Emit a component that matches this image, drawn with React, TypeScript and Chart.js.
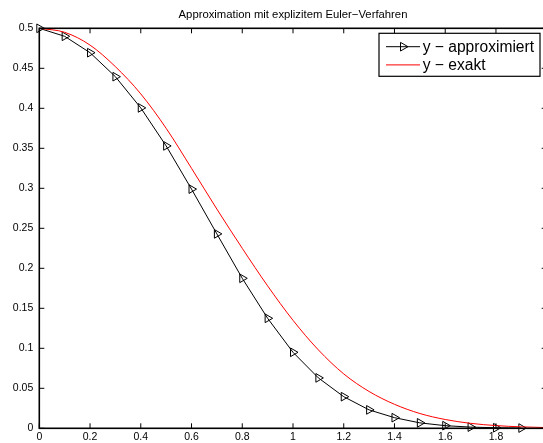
import React, { useEffect, useRef } from "react";
import { Chart, registerables } from "chart.js";

Chart.register(...registerables);

// ---- data ----
const chartTitle = "Approximation mit explizitem Euler\u2212Verfahren";
const legendLabels = ["y \u2212 approximiert", "y \u2212 exakt"];

const xApprox = [0, 0.1, 0.2, 0.3, 0.4, 0.5, 0.6, 0.7, 0.8, 0.9, 1.0, 1.1, 1.2, 1.3, 1.4, 1.5, 1.6, 1.7, 1.8, 1.9];
const yApprox = [0.5, 0.49, 0.4695, 0.4395, 0.4005, 0.353, 0.299, 0.243, 0.1875, 0.1375, 0.095, 0.063, 0.0395, 0.023, 0.0133, 0.0068, 0.0033, 0.0015, 0.0007, 0.0003];

const xExact = [0, 0.1, 0.2, 0.3, 0.4, 0.5, 0.6, 0.7, 0.8, 0.9, 1.0, 1.1, 1.2, 1.3, 1.4, 1.5, 1.6, 1.7, 1.8, 1.9, 2.0];
const yExact = [0.5, 0.495, 0.479, 0.452, 0.418, 0.375, 0.325, 0.274, 0.225, 0.178, 0.135, 0.098, 0.068, 0.046, 0.03, 0.0185, 0.011, 0.0062, 0.0034, 0.0018, 0.0009];

const xTickValues = [0, 0.2, 0.4, 0.6, 0.8, 1.0, 1.2, 1.4, 1.6, 1.8];
const xTickLabels = ["0", "0.2", "0.4", "0.6", "0.8", "1", "1.2", "1.4", "1.6", "1.8"];
const yTickValues = [0, 0.05, 0.1, 0.15, 0.2, 0.25, 0.3, 0.35, 0.4, 0.45, 0.5];
const yTickLabels = ["0", "0.05", "0.1", "0.15", "0.2", "0.25", "0.3", "0.35", "0.4", "0.45", "0.5"];

const xRange = [0, 2];
const yRange = [0, 0.5];

// ---- layout / style ----
const CANVAS_W = 560;
const CANVAS_H = 443;
const FONT = "'Liberation Sans', Arial, Helvetica, sans-serif";

function drawTriangle(ctx: CanvasRenderingContext2D, x: number, y: number, r: number) {
  let rad = Math.PI / 2;
  ctx.beginPath();
  ctx.moveTo(x + Math.sin(rad) * r, y - Math.cos(rad) * r);
  rad += (2 * Math.PI) / 3;
  ctx.lineTo(x + Math.sin(rad) * r, y - Math.cos(rad) * r);
  rad += (2 * Math.PI) / 3;
  ctx.lineTo(x + Math.sin(rad) * r, y - Math.cos(rad) * r);
  ctx.closePath();
  ctx.stroke();
}

const boxPlugin = {
  id: "matlabBox",
  afterDraw(chart: any) {
    const { ctx, chartArea: ca, scales } = chart;
    const xs = scales.x;
    const ys = scales.y;
    ctx.save();
    // axes box
    ctx.strokeStyle = "#000";
    ctx.lineWidth = 1.6;
    ctx.strokeRect(ca.left, ca.top, ca.right - ca.left, ca.bottom - ca.top);
    // inward ticks
    ctx.lineWidth = 1;
    const tl = 5;
    ctx.beginPath();
    xTickValues.forEach((v) => {
      const px = xs.getPixelForValue(v);
      ctx.moveTo(px, ca.bottom);
      ctx.lineTo(px, ca.bottom - tl);
      ctx.moveTo(px, ca.top);
      ctx.lineTo(px, ca.top + tl);
    });
    yTickValues.forEach((v) => {
      const py = ys.getPixelForValue(v);
      ctx.moveTo(ca.left, py);
      ctx.lineTo(ca.left + tl, py);
      ctx.moveTo(ca.right, py);
      ctx.lineTo(ca.right - tl, py);
    });
    ctx.stroke();

    // legend
    const bw = 161;
    const bh = 43;
    const bx = ca.right - 6.7 - bw;
    const by = ca.top + 5;
    ctx.fillStyle = "#fff";
    ctx.fillRect(bx, by, bw, bh);
    ctx.strokeStyle = "#000";
    ctx.lineWidth = 1.2;
    ctx.strokeRect(bx, by, bw, bh);
    const rows = [by + 13.4, by + 31.6];
    const colors = ["#000", "#ff0000"];
    rows.forEach((ry, i) => {
      ctx.strokeStyle = colors[i];
      ctx.lineWidth = 1;
      ctx.beginPath();
      ctx.moveTo(bx + 7, ry);
      ctx.lineTo(bx + 41, ry);
      ctx.stroke();
      if (i === 0) {
        ctx.strokeStyle = "#000";
        drawTriangle(ctx, bx + 24, ry, 5);
      }
      ctx.fillStyle = "#000";
      ctx.font = `15.6px ${FONT}`;
      ctx.textAlign = "left";
      ctx.textBaseline = "middle";
      ctx.fillText(legendLabels[i], bx + 43.7, ry + 0.5);
    });
    ctx.restore();
  },
};

export default function App() {
  const canvasRef = useRef<HTMLCanvasElement | null>(null);

  useEffect(() => {
    const canvas = canvasRef.current;
    if (!canvas) return;
    const chart = new Chart(canvas, {
      type: "line",
      data: {
        datasets: [
          {
            label: legendLabels[0],
            data: xApprox.map((x, i) => ({ x, y: yApprox[i] })),
            borderColor: "#000",
            borderWidth: 1,
            pointStyle: "triangle",
            pointRotation: 90,
            pointRadius: 5,
            pointHoverRadius: 5,
            pointBackgroundColor: "rgba(0,0,0,0)",
            pointBorderColor: "#000",
            pointBorderWidth: 1,
            tension: 0,
            clip: false as any,
            order: 2,
          },
          {
            label: legendLabels[1],
            data: xExact.map((x, i) => ({ x, y: yExact[i] })),
            borderColor: "#ff0000",
            borderWidth: 1,
            pointRadius: 0,
            pointHoverRadius: 0,
            cubicInterpolationMode: "monotone",
            order: 1,
          },
        ],
      },
      options: {
        responsive: false,
        animation: false,
        devicePixelRatio: 1,
        layout: { padding: { left: 0, right: CANVAS_W - 546.7, top: 0, bottom: 0 } },
        plugins: {
          legend: { display: false },
          tooltip: { enabled: false },
          title: {
            display: true,
            text: chartTitle,
            fullSize: false,
            color: "#000",
            font: { family: FONT, size: 11.3, weight: "normal", lineHeight: 1.2 },
            padding: { top: 8, bottom: 28.3 - 8 - 11.3 * 1.2 },
          },
        },
        scales: {
          x: {
            type: "linear",
            min: xRange[0],
            max: xRange[1],
            grid: { display: false, drawTicks: false },
            border: { display: false },
            afterBuildTicks: (scale: any) => {
              scale.ticks = xTickValues.map((v) => ({ value: v }));
            },
            afterFit: (scale: any) => {
              scale.height = CANVAS_H - 428.3;
            },
            ticks: {
              padding: 3,
              color: "#000",
              maxRotation: 0,
              autoSkip: false,
              font: { family: FONT, size: 10.5 },
              callback: (v: any) => {
                const i = xTickValues.findIndex((t) => Math.abs(t - Number(v)) < 1e-9);
                return i >= 0 ? xTickLabels[i] : "";
              },
            },
          },
          y: {
            type: "linear",
            min: yRange[0],
            max: yRange[1],
            grid: { display: false, drawTicks: false },
            border: { display: false },
            afterBuildTicks: (scale: any) => {
              scale.ticks = yTickValues.map((v) => ({ value: v }));
            },
            afterFit: (scale: any) => {
              scale.width = 39.3;
            },
            ticks: {
              padding: 6,
              color: "#000",
              autoSkip: false,
              font: { family: FONT, size: 10.5 },
              callback: (v: any) => {
                const i = yTickValues.findIndex((t) => Math.abs(t - Number(v)) < 1e-9);
                return i >= 0 ? yTickLabels[i] : "";
              },
            },
          },
        },
      } as any,
      plugins: [boxPlugin],
    });
    return () => chart.destroy();
  }, []);

  return (
    <div
      style={{
        position: "fixed",
        left: 0,
        top: 0,
        width: 543,
        height: 443,
        overflow: "hidden",
        background: "#fff",
      }}
    >
      <canvas
        ref={canvasRef}
        width={CANVAS_W}
        height={CANVAS_H}
        style={{ width: CANVAS_W, height: CANVAS_H, display: "block" }}
      />
    </div>
  );
}
